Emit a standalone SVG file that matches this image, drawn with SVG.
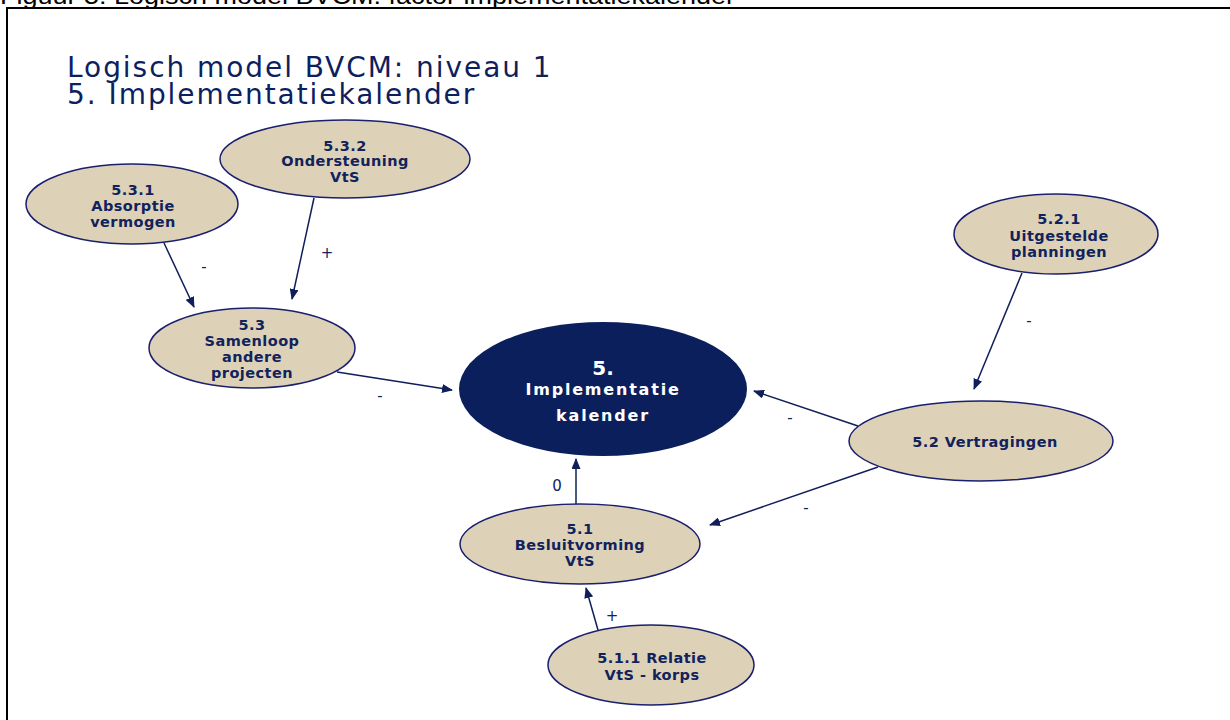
<svg xmlns="http://www.w3.org/2000/svg" width="1230" height="720" viewBox="0 0 1230 720">
<defs>
<marker id="ah" markerUnits="userSpaceOnUse" markerWidth="11" markerHeight="9" refX="10" refY="4.5" orient="auto">
<path d="M0,0 L11,4.5 L0,9 z" fill="#101f5a"/>
</marker>
</defs>
<style>
.node{fill:#ddd2b7;stroke:#1a1f6e;stroke-width:1.5}
.core{fill:#0b1f5c;stroke:none}
.lbl{font-family:"DejaVu Sans",Verdana,sans-serif;font-weight:bold;font-size:14.5px;letter-spacing:0.45px;fill:#11225c;text-anchor:middle}
.wl{font-family:"DejaVu Sans",Verdana,sans-serif;font-weight:bold;fill:#ffffff;text-anchor:middle}
.edge{stroke:#101f5a;stroke-width:1.5;fill:none;marker-end:url(#ah)}
.sign{font-family:"DejaVu Sans",Verdana,sans-serif;font-size:15px;fill:#11225c;text-anchor:middle}
.title{font-family:"DejaVu Sans",Verdana,sans-serif;font-size:28px;letter-spacing:1.95px;fill:#0d1f5e}
</style>
<rect width="1230" height="720" fill="#ffffff"/>
<text x="0" y="4" font-family="Liberation Sans, Arial, sans-serif" font-size="24" fill="#000000" textLength="735" lengthAdjust="spacingAndGlyphs">Figuur 5: Logisch model BVCM: factor implementatiekalender</text>
<rect x="7" y="8" width="1240" height="730" fill="none" stroke="#000000" stroke-width="2"/>
<text class="title" x="67" y="77">Logisch model BVCM: niveau 1</text>
<text class="title" x="67" y="104">5. Implementatiekalender</text>
<g id="connectors">
<line class="edge" x1="164" y1="243" x2="194" y2="307"/>
<line class="edge" x1="314" y1="198" x2="292" y2="299"/>
<line class="edge" x1="337" y1="372" x2="452" y2="390"/>
<line class="edge" x1="1022" y1="273" x2="974" y2="389"/>
<line class="edge" x1="858" y1="426" x2="754" y2="391"/>
<line class="edge" x1="878" y1="467" x2="710" y2="525"/>
<line class="edge" x1="576" y1="504" x2="576" y2="459"/>
<line class="edge" x1="598" y1="630" x2="586" y2="588"/>
<text class="sign" x="204" y="272">-</text>
<text class="sign" x="327" y="258">+</text>
<text class="sign" x="380" y="401">-</text>
<text class="sign" x="1029" y="326">-</text>
<text class="sign" x="790" y="423">-</text>
<text class="sign" x="806" y="513">-</text>
<text class="sign" x="557" y="491">0</text>
<text class="sign" x="612" y="621">+</text>
</g>
<g id="n532">
<ellipse class="node" cx="345" cy="159" rx="125" ry="39"/>
<text class="lbl" x="345" y="151">5.3.2</text>
<text class="lbl" x="345" y="166">Ondersteuning</text>
<text class="lbl" x="345" y="182">VtS</text>
</g>
<g id="n531">
<ellipse class="node" cx="132" cy="204" rx="106" ry="40"/>
<text class="lbl" x="133" y="195">5.3.1</text>
<text class="lbl" x="133" y="211">Absorptie</text>
<text class="lbl" x="133" y="227">vermogen</text>
</g>
<g id="n53">
<ellipse class="node" cx="252" cy="348" rx="103" ry="40"/>
<text class="lbl" x="252" y="330">5.3</text>
<text class="lbl" x="252" y="346">Samenloop</text>
<text class="lbl" x="252" y="362">andere</text>
<text class="lbl" x="252" y="378">projecten</text>
</g>
<g id="n5">
<ellipse class="core" cx="603" cy="389" rx="144" ry="67"/>
<text class="wl" x="603" y="375" font-size="20">5.</text>
<text class="wl" x="603" y="395" font-size="16" letter-spacing="1.8">Implementatie</text>
<text class="wl" x="603" y="421" font-size="16" letter-spacing="1.8">kalender</text>
</g>
<g id="n521">
<ellipse class="node" cx="1056" cy="234" rx="102" ry="40"/>
<text class="lbl" x="1059" y="224">5.2.1</text>
<text class="lbl" x="1059" y="241">Uitgestelde</text>
<text class="lbl" x="1059" y="257">planningen</text>
</g>
<g id="n52">
<ellipse class="node" cx="981" cy="441" rx="132" ry="40"/>
<text class="lbl" x="985" y="447">5.2 Vertragingen</text>
</g>
<g id="n51">
<ellipse class="node" cx="580" cy="544" rx="120" ry="40"/>
<text class="lbl" x="580" y="534">5.1</text>
<text class="lbl" x="580" y="550">Besluitvorming</text>
<text class="lbl" x="580" y="566">VtS</text>
</g>
<g id="n511">
<ellipse class="node" cx="651" cy="665" rx="103" ry="40"/>
<text class="lbl" x="652" y="663">5.1.1 Relatie</text>
<text class="lbl" x="652" y="680">VtS - korps</text>
</g>
</svg>
